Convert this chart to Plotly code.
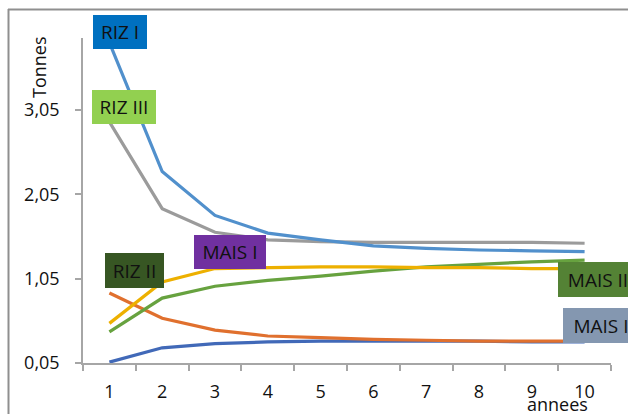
import plotly.graph_objects as go

years = list(range(1, 11))
riz_1 = [3.85, 2.32, 1.80, 1.59, 1.51, 1.44, 1.41, 1.39, 1.38, 1.37]
riz_3 = [2.91, 1.88, 1.60, 1.51, 1.49, 1.48, 1.48, 1.48, 1.48, 1.47]
mais_1_gold = [0.52, 1.01, 1.17, 1.18, 1.19, 1.19, 1.18, 1.18, 1.17, 1.17]
mais_2 = [0.42, 0.82, 0.96, 1.03, 1.08, 1.14, 1.19, 1.22, 1.25, 1.27]
riz_2 = [0.88, 0.58, 0.44, 0.37, 0.35, 0.33, 0.32, 0.31, 0.31, 0.31]
mais_1_blue = [0.06, 0.23, 0.28, 0.30, 0.31, 0.31, 0.31, 0.31, 0.30, 0.30]

y_ticks = [0.05, 1.05, 2.05, 3.05]
y_tick_labels = ["0,05", "1,05", "2,05", "3,05"]

series = [
    (mais_1_blue, "#4169B8"),
    (riz_2, "#E0702E"),
    (mais_2, "#67A23F"),
    (mais_1_gold, "#EDB000"),
    (riz_3, "#9B9B9B"),
    (riz_1, "#5190CC"),
]

FONT = "Open Sans"
W, H = 628, 414
L, R, T, B = 83, 611, 38, 363

fig = go.Figure()
for vals, col in series:
    fig.add_trace(go.Scatter(x=years, y=vals, mode="lines",
                             line=dict(color=col, width=3.2), showlegend=False,
                             hoverinfo="skip"))

def px(x):
    return (x - L) / (R - L)

def py(y):
    return (B - y) / (B - T)

labels = [
    ("RIZ I", 93, 15, 54, 34, "#0070C0"),
    ("RIZ III", 92, 90, 64, 34, "#92D050"),
    ("RIZ II", 105, 253, 59, 35, "#375623"),
    ("MAIS I", 194, 235, 72, 34, "#7030A0"),
    ("MAIS II", 558, 262, 80, 35, "#548235"),
    ("MAIS I", 563, 308, 76, 35, "#8497B0"),
]
annotations = []
for text, x0, y0, w, h, col in labels:
    annotations.append(dict(
        text=text, xref="paper", yref="paper", x=px(x0), y=py(y0),
        xanchor="left", yanchor="top", showarrow=False, width=w, height=h,
        bgcolor=col, borderpad=0, borderwidth=0, align="center", valign="middle",
        font=dict(family=FONT, size=19, color="#111111")))

annotations.append(dict(text="Tonnes", xref="paper", yref="paper", x=px(39), y=py(67),
                        xanchor="center", yanchor="middle", textangle=-90, showarrow=False,
                        font=dict(family=FONT, size=18, color="#111111")))
annotations.append(dict(text="annees", xref="paper", yref="paper", x=px(557), y=py(404),
                        xanchor="center", yanchor="middle", showarrow=False,
                        font=dict(family=FONT, size=18, color="#111111")))

shapes = [
    dict(type="line", xref="paper", yref="paper", x0=px(8), x1=px(640), y0=py(9.5), y1=py(9.5),
         line=dict(color="#8F8F8F", width=2)),
    dict(type="line", xref="paper", yref="paper", x0=px(8.5), x1=px(8.5), y0=py(9), y1=py(430),
         line=dict(color="#8F8F8F", width=2)),
]

fig.update_layout(
    width=W, height=H, autosize=False,
    margin=dict(l=L, r=W - R, t=T, b=H - B),
    paper_bgcolor="white", plot_bgcolor="white",
    annotations=annotations, shapes=shapes,
    font=dict(family=FONT, size=18, color="#111111"),
    xaxis=dict(range=[0.5, 10.5], tickvals=years, ticktext=[str(v) for v in years],
               ticks="", showgrid=False, zeroline=False, showline=True,
               linecolor="#A6A6A6", linewidth=1.5, ticklabelstandoff=12,
               minor=dict(tickmode="array", tickvals=[v - 0.5 for v in years] + [10.5],
                          ticks="outside", ticklen=6, tickcolor="#A6A6A6", tickwidth=1.5,
                          showgrid=False),
               tickfont=dict(family=FONT, size=18, color="#111111")),
    yaxis=dict(range=[0.05, 3.904], tickvals=y_ticks, ticktext=y_tick_labels,
               ticks="outside", ticklen=6, tickcolor="#A6A6A6", tickwidth=1.5,
               showgrid=False, zeroline=False, showline=True,
               linecolor="#A6A6A6", linewidth=1.5, ticklabelstandoff=12,
               tickfont=dict(family=FONT, size=18, color="#111111")),
)

fig.write_html("out.html", config={"displayModeBar": False},
               post_script="document.body.style.margin='0';document.body.style.padding='0';document.body.style.overflow='hidden';")
